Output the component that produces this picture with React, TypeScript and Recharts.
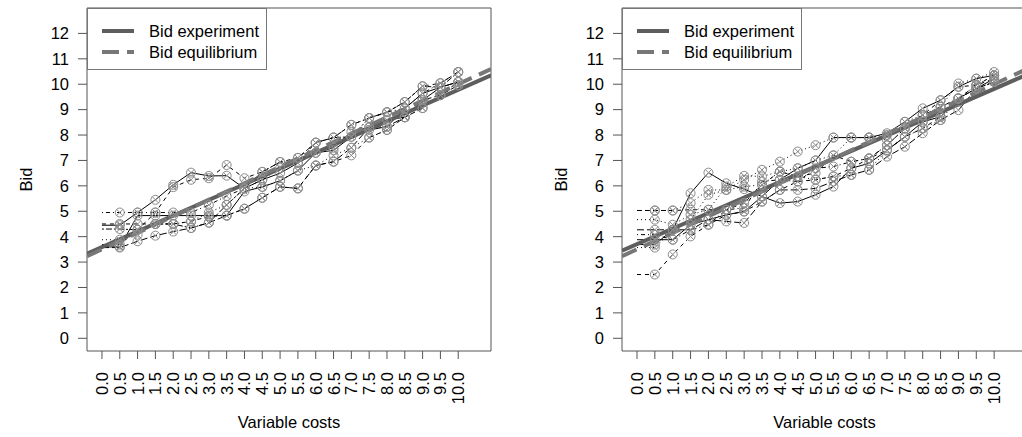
import { LineChart, Line, XAxis, YAxis, ReferenceArea } from 'recharts';

// cost levels shown on the x axis
const COSTS = [0, 0.5, 1, 1.5, 2, 2.5, 3, 3.5, 4, 4.5, 5, 5.5, 6, 6.5, 7, 7.5, 8, 8.5, 9, 9.5, 10];
const BID_TICKS = [0, 1, 2, 3, 4, 5, 6, 7, 8, 9, 10, 11, 12];
const X_DOMAIN: [number, number] = [-0.42, 10.92];
const Y_DOMAIN: [number, number] = [-0.5, 13];

// left panel, one array per subject (bid at each cost level)
const left1 = [4.45, 4.45, 4.95, 5.45, 6.04, 6.52, 6.39, 6.4, 5.9, 6.24, 6.5, 6.9, 7.3, 7.5, 8.13, 8.3, 8.6, 8.7, 9.37, 9.88, 10.09];
const left2 = [3.69, 3.69, 4.27, 4.95, 5.95, 6.24, 6.3, 6.82, 6.3, 6.55, 6.94, 7.1, 7.7, 7.9, 8.4, 8.67, 8.9, 9.3, 9.92, 10.04, 10.48];
const left3 = [3.6, 3.6, 4.83, 4.83, 4.83, 4.83, 4.83, 4.83, 5.78, 5.96, 6.2, 6.6, 7.3, 7.4, 7.93, 8.2, 8.33, 9.05, 9.64, 9.88, 10.09];
const left4 = [4.95, 4.95, 4.95, 4.95, 4.95, 4.95, 5.25, 5.6, 5.9, 6.24, 6.7, 7.1, 7.7, 7.9, 8.4, 8.67, 8.9, 9.05, 9.64, 10.04, 10.48];
const left5 = [4.5, 4.5, 4.5, 4.5, 4.5, 4.6, 4.8, 4.83, 5.1, 5.53, 5.96, 5.9, 6.8, 6.95, 7.2, 7.9, 8.2, 8.7, 9.06, 9.57, 9.96];
const left6 = [3.88, 3.88, 4.08, 4.5, 4.5, 4.6, 4.95, 5.25, 5.9, 5.96, 6.2, 6.6, 6.8, 7.2, 7.5, 7.9, 8.2, 8.7, 9.06, 9.57, 9.96];
const left7 = [3.57, 3.57, 3.82, 4.04, 4.2, 4.34, 4.55, 4.83, 5.1, 5.53, 5.96, 5.9, 6.8, 6.95, 7.5, 8.3, 8.33, 8.7, 9.37, 9.57, 10.09];
const left8 = [4.3, 4.3, 4.27, 4.5, 4.5, 4.34, 4.55, 5.25, 5.9, 6.55, 6.94, 6.9, 7.7, 7.9, 7.93, 8.67, 8.9, 9.3, 9.92, 9.88, 10.48];

// right panel
const right1 = [3.69, 3.69, 4.27, 5.71, 6.52, 6.1, 5.87, 5.58, 6.24, 6.69, 7.0, 7.9, 7.9, 7.9, 8.07, 8.52, 9.05, 9.37, 9.9, 10.22, 10.35];
const right2 = [2.51, 2.51, 3.3, 4.01, 4.47, 4.86, 4.99, 5.38, 5.84, 6.17, 6.24, 6.37, 6.69, 7.08, 7.41, 7.93, 8.26, 8.72, 9.44, 9.83, 10.09];
const right3 = [5.03, 5.03, 5.03, 5.32, 5.84, 5.84, 6.24, 6.63, 6.95, 7.35, 7.6, 7.9, 7.9, 7.9, 8.0, 8.26, 8.52, 9.11, 10.03, 10.22, 10.48];
const right4 = [5.03, 5.03, 5.03, 5.06, 5.06, 5.06, 5.32, 6.04, 6.56, 6.37, 6.5, 7.2, 6.95, 7.08, 7.6, 8.26, 8.78, 9.37, 9.9, 9.96, 10.22];
const right5 = [4.67, 4.67, 4.47, 4.86, 5.06, 5.97, 6.39, 6.37, 6.56, 6.69, 7.0, 7.2, 7.9, 7.9, 7.8, 8.52, 8.78, 9.11, 9.44, 9.96, 10.35];
const right6 = [4.27, 4.27, 4.27, 4.27, 4.67, 4.6, 4.54, 5.38, 5.84, 5.84, 5.9, 6.17, 6.43, 6.63, 7.15, 7.54, 8.07, 8.59, 8.98, 9.83, 10.09];
const right7 = [3.88, 3.88, 3.88, 4.47, 4.67, 4.86, 4.99, 5.58, 5.32, 5.38, 5.65, 5.97, 6.69, 6.89, 7.4, 7.93, 8.52, 8.72, 9.44, 9.83, 10.22];
const right8 = [4.08, 4.08, 3.88, 4.27, 4.47, 5.06, 5.13, 6.17, 6.24, 6.17, 6.69, 6.76, 6.95, 7.08, 7.6, 8.26, 8.78, 9.11, 9.44, 9.96, 10.35];
const right9 = [3.57, 3.57, 4.27, 4.67, 5.65, 5.84, 5.97, 6.04, 6.56, 6.37, 6.24, 6.37, 6.43, 6.63, 7.41, 7.93, 8.26, 8.59, 9.44, 9.83, 10.09];

// fitted and equilibrium lines, values at both ends of the x range
const LINE_COSTS = [-0.42, 10.92];
const leftFit = [3.33, 10.35];
const rightFit = [3.45, 10.38];
const equilibrium = [3.23, 10.6];

const LEFT_SUBJECTS = [left1, left2, left3, left4, left5, left6, left7, left8];
const RIGHT_SUBJECTS = [right1, right2, right3, right4, right5, right6, right7, right8, right9];
const LEFT_DASHES = ['', '4 4', '', '1 3 4 3', '4 4', '1 3', '7 3', '2 2 6 2'];
const RIGHT_DASHES = ['', '4 4', '1 3', '4 4', '1 3', '7 3', '', '1 3 4 3', '1 3'];

const FONT = '"Liberation Sans", Arial, sans-serif';
const AXIS = '#555';
const PLOT_BOTTOM = 351;

const toPoints = (xs: number[], ys: number[]) => xs.map((x, i) => ({ cost: x, bid: ys[i] }));

const renderMark = (props: any) => {
  const { cx, cy, index } = props;
  if (index === 0 || cx == null || cy == null) return <g key={`e-${index}`} />;
  const r = 4.5;
  const d = r * 0.72;
  return (
    <g key={`m-${index}-${cx}-${cy}`}>
      <circle cx={cx} cy={cy} r={r} fill="none" stroke="#8c8c8c" strokeWidth={1} />
      <line x1={cx - d} y1={cy - d} x2={cx + d} y2={cy + d} stroke="#8c8c8c" strokeWidth={1} />
      <line x1={cx - d} y1={cy + d} x2={cx + d} y2={cy - d} stroke="#8c8c8c" strokeWidth={1} />
    </g>
  );
};

const CostTick = (props: any) => {
  const { x, payload } = props;
  return (
    <text
      transform={`translate(${x + 6},${PLOT_BOTTOM + 21}) rotate(-90)`}
      textAnchor="end"
      fontSize={16.5}
      fontFamily={FONT}
      fill="#000"
    >
      {Number(payload.value).toFixed(1)}
    </text>
  );
};

const LegendBox = ({ left }: { left: number }) => (
  <svg width={181} height={63} style={{ position: 'absolute', left, top: 8 }}>
    <rect x={0.5} y={0.5} width={179} height={61} fill="#fff" stroke="#777" />
    <line x1={15} y1={23} x2={47} y2={23} stroke="#5e5e5e" strokeWidth={4} />
    <line x1={15} y1={44} x2={47} y2={44} stroke="#777" strokeWidth={4} strokeDasharray="17 8" />
    <text x={62} y={29} fontSize={16.5} fontFamily={FONT} fill="#000">Bid experiment</text>
    <text x={62} y={50} fontSize={16.5} fontFamily={FONT} fill="#000">Bid equilibrium</text>
  </svg>
);

interface PanelProps {
  subjects: number[][];
  dashes: string[];
  fit: number[];
  width: number;
  rightMargin: number;
}

function Panel({ subjects, dashes, fit, width, rightMargin }: PanelProps) {
  return (
    <LineChart width={width} height={437} margin={{ top: 8, right: rightMargin, bottom: 0, left: 0 }}>
      <XAxis
        dataKey="cost"
        type="number"
        domain={X_DOMAIN}
        allowDataOverflow
        ticks={COSTS}
        interval={0}
        axisLine={false}
        tickLine={{ stroke: AXIS }}
        tickSize={8}
        tick={<CostTick />}
        height={86}
        label={{
          content: (p: any) => {
            const vb = p.viewBox;
            return (
              <text x={vb.x + vb.width / 2} y={428} textAnchor="middle" fontSize={16.5} fontFamily={FONT} fill="#000">
                Variable costs
              </text>
            );
          },
        }}
      />
      <YAxis
        type="number"
        domain={Y_DOMAIN}
        allowDataOverflow
        ticks={BID_TICKS}
        interval={0}
        axisLine={false}
        tickLine={{ stroke: AXIS }}
        tickSize={9}
        tickMargin={9}
        width={87}
        tick={{ fontSize: 16.5, fontFamily: FONT, fill: '#000' }}
        label={{
          content: (p: any) => {
            const vb = p.viewBox;
            const cy = vb.y + vb.height / 2;
            return (
              <text transform={`translate(${vb.x + 32},${cy}) rotate(-90)`} textAnchor="middle" fontSize={16.5} fontFamily={FONT} fill="#000">
                Bid
              </text>
            );
          },
        }}
      />
      <ReferenceArea x1={X_DOMAIN[0]} x2={X_DOMAIN[1]} y1={Y_DOMAIN[0]} y2={Y_DOMAIN[1]} fill="none" stroke={AXIS} strokeWidth={1} />
      {subjects.map((s, i) => (
        <Line
          key={`s${i}`}
          data={toPoints(COSTS, s)}
          dataKey="bid"
          type="linear"
          stroke="#000"
          strokeWidth={1}
          strokeDasharray={dashes[i] || undefined}
          dot={renderMark}
          activeDot={false}
          isAnimationActive={false}
        />
      ))}
      <Line data={toPoints(LINE_COSTS, fit)} dataKey="bid" type="linear" stroke="#5e5e5e" strokeWidth={4} dot={false} activeDot={false} isAnimationActive={false} />
      <Line data={toPoints(LINE_COSTS, equilibrium)} dataKey="bid" type="linear" stroke="#777" strokeWidth={4} strokeDasharray="16 8" dot={false} activeDot={false} isAnimationActive={false} />
    </LineChart>
  );
}

export default function App() {
  return (
    <div style={{ position: 'absolute', left: 0, top: 0, width: 1022, height: 437, overflow: 'hidden', background: '#fff' }}>
      <div style={{ position: 'absolute', left: 0, top: 0 }}>
        <Panel subjects={LEFT_SUBJECTS} dashes={LEFT_DASHES} fit={leftFit} width={511} rightMargin={20} />
      </div>
      <div style={{ position: 'absolute', left: 535, top: 0 }}>
        <Panel subjects={RIGHT_SUBJECTS} dashes={RIGHT_DASHES} fit={rightFit} width={495} rightMargin={3} />
      </div>
      <LegendBox left={87} />
      <LegendBox left={622} />
    </div>
  );
}
